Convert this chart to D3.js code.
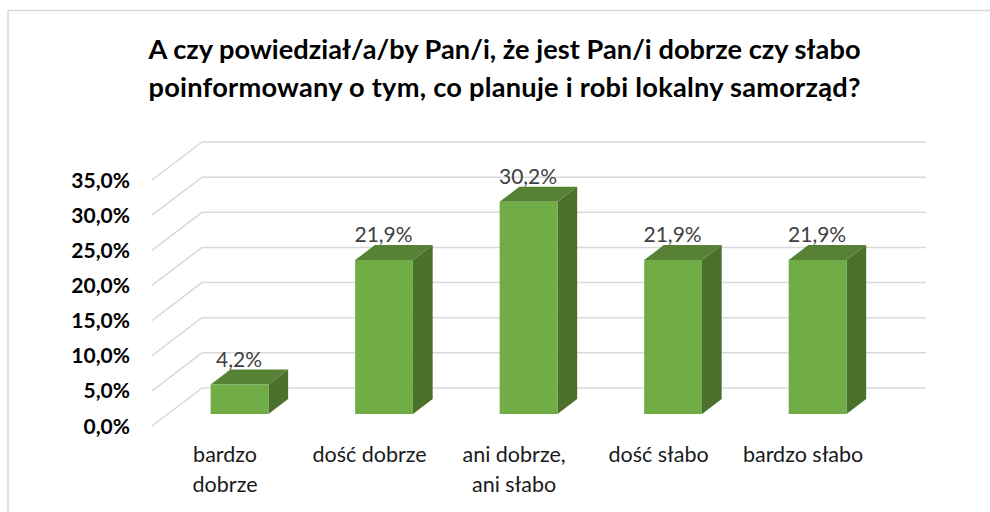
<!DOCTYPE html>
<html lang="pl">
<head>
<meta charset="utf-8">
<script src="https://cdn.jsdelivr.net/npm/d3@7"></script>
<style>
html,body{margin:0;padding:0;background:#fff;overflow:hidden}
svg{display:block}
text{font-family:Lato,"Open Sans",sans-serif}
</style>
</head>
<body>
<svg id="chart" width="990" height="512"></svg>
<script>
const titleLines = ["A czy powiedział/a/by Pan/i, że jest Pan/i dobrze czy słabo",
                    "poinformowany o tym, co planuje i robi lokalny samorząd?"];
const categories = ["bardzo dobrze","dość dobrze","ani dobrze, ani słabo","dość słabo","bardzo słabo"];
const categoryLines = [["bardzo","dobrze"],["dość dobrze"],["ani dobrze,","ani słabo"],["dość słabo"],["bardzo słabo"]];
const values = [4.2,21.9,30.2,21.9,21.9];
const valueTicks = [0,5,10,15,20,25,30,35];

const fmt = v => v.toFixed(1).replace(".",",") + "%";
const svg = d3.select("#chart");

const x = d3.scaleBand().domain(categories).range([152,876]).paddingInner(0.6).paddingOuter(0.305).align(0.486);
const y = d3.scaleLinear().domain([0,35]).range([426,180]);
// oblique projection of the 3D box: depth 0 = front of floor, 1 = back wall
const depthX = d3.scaleLinear().domain([0,1]).range([0,50]);
const depthY = d3.scaleLinear().domain([0,1]).range([0,-38]);
const P = (px,v,d) => [px + depthX(d), y(v) + depthY(d)];
const near = 0.316, far = 0.71;
const line = d3.line();

// chart frame (cropped at right and bottom)
svg.append("path").attr("d","M8,512V10.5H990").attr("fill","none").attr("stroke","#d9d9d9").attr("stroke-width",1.6);

// title
svg.append("g").selectAll("text").data(titleLines).join("text")
  .attr("x",504.5).attr("y",(d,i)=>58.5+i*38)
  .attr("text-anchor","middle").attr("font-weight",700).attr("font-size",27.2).attr("fill","#000")
  .attr("textLength",712).attr("lengthAdjust","spacing")
  .text(d=>d);

// gridlines: side wall + back wall
svg.append("g").selectAll("path").data(valueTicks).join("path")
  .attr("d",v=>line([P(x.range()[0],v,0),P(x.range()[0],v,1),P(x.range()[1],v,1)]))
  .attr("fill","none").attr("stroke","#d9d9d9").attr("stroke-width",1.5);

// value axis labels
svg.append("g").selectAll("text").data(valueTicks).join("text")
  .attr("x",130).attr("y",v=>y(v)+7.5)
  .attr("text-anchor","end").attr("font-weight",700).attr("font-size",21).attr("fill","#000")
  .text(fmt);

// bars
const bars = svg.append("g").selectAll("g").data(categories.map((c,i)=>({c,v:values[i]}))).join("g");
bars.append("path").attr("fill","#4a702b") // side
  .attr("d",d=>{const r=x(d.c)+x.bandwidth();return line([P(r,0,near),P(r,0,far),P(r,d.v,far),P(r,d.v,near)])+"Z";});
bars.append("path").attr("fill","#578235") // top
  .attr("d",d=>{const l=x(d.c),r=l+x.bandwidth();return line([P(l,d.v,near),P(l,d.v,far),P(r,d.v,far),P(r,d.v,near)])+"Z";});
bars.append("path").attr("fill","#70ad47") // front
  .attr("d",d=>{const l=x(d.c),r=l+x.bandwidth();return line([P(l,0,near),P(r,0,near),P(r,d.v,near),P(l,d.v,near)])+"Z";});

// data labels
bars.append("text")
  .attr("x",d=>P(x(d.c)+x.bandwidth()/2,d.v,near)[0]-0.5)
  .attr("y",d=>P(0,d.v,far)[1]-3)
  .attr("text-anchor","middle").attr("font-size",21).attr("fill","#404040")
  .text(d=>fmt(d.v));

// category labels
svg.append("g").selectAll("text").data(categories).join("text")
  .attr("text-anchor","middle").attr("font-size",21.5).attr("fill","#1a1a1a")
  .each(function(c,i){
    const cx = P(x(c)+x.bandwidth()/2,0,near)[0] - 14.5;
    d3.select(this).selectAll("tspan").data(categoryLines[i]).join("tspan")
      .attr("x",cx).attr("y",(d,j)=>462+j*30).text(d=>d);
  });
</script>
</body>
</html>
